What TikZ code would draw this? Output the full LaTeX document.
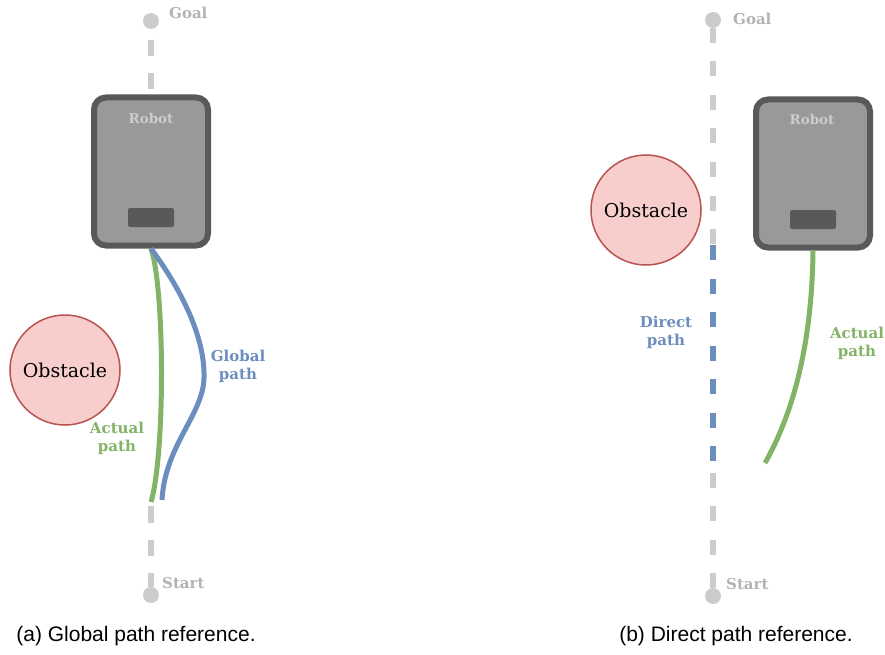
\documentclass[tikz,border=0pt]{standalone}
\usepackage{fontspec}
\setmainfont{DejaVu Serif}
\newfontfamily\capfont{Liberation Sans}
\definecolor{trackgray}{HTML}{CCCCCC}
\definecolor{labelgray}{HTML}{B3B3B3}
\definecolor{bodygray}{HTML}{999999}
\definecolor{rimgray}{HTML}{595959}
\definecolor{robottext}{HTML}{CCCCCC}
\definecolor{obsfill}{HTML}{F8CECC}
\definecolor{obsdraw}{HTML}{B85450}
\definecolor{pathgreen}{HTML}{82B366}
\definecolor{pathblue}{HTML}{6C8EBF}
\begin{document}
\begin{tikzpicture}[x=1pt,y=-1pt,
  endpoint/.style={circle,fill=trackgray,minimum size=16pt,inner sep=0pt,outer sep=0pt},
  endlabel/.style={anchor=west,text=labelgray,font=\fontsize{15}{18}\selectfont\bfseries,inner sep=0pt},
  track/.style={trackgray,line width=6pt},
  robotbody/.style={rectangle,draw=rimgray,fill=bodygray,line width=6pt,rounded corners=12pt,
    minimum width=114pt,minimum height=148pt,inner sep=0pt},
  sensor/.style={rectangle,fill=rimgray,rounded corners=2pt,minimum width=46pt,minimum height=19pt,inner sep=0pt},
  robotlabel/.style={text=robottext,font=\fontsize{13.5}{15}\selectfont\bfseries,inner sep=0pt},
  obstacle/.style={circle,draw=obsdraw,fill=obsfill,line width=1.5pt,minimum size=110pt,inner sep=0pt,
    font=\fontsize{19}{22}\selectfont},
  route/.style={line width=5pt},
  routelabel/.style={align=center,font=\fontsize{15}{18}\selectfont\bfseries,inner sep=0pt},
  caption/.style={font=\capfont\fontsize{21}{24}\selectfont,inner sep=0pt}
]
\useasboundingbox (0,0) rectangle (885,655);

% ---------- (a) global path reference ----------
\node[endpoint] (goalA) at (151,21) {};
\node[endlabel] (goalAtxt) at (169,13) {Goal};
\node[endpoint] (startA) at (151,595) {};
\node[endlabel] (startAtxt) at (162,583) {Start};

\node[robotbody] (robotA) at (151,171.5) {};
\node[sensor] (sensorA) at (151,217.5) {};
\node[robotlabel] (robotAtxt) at (151,118) {Robot};

\node[obstacle] (obsA) at (65,370) {Obstacle};

\coordinate (trackAend) at (151,505);
\draw[track,dash pattern=on 16pt off 17pt,dash phase=22pt] (goalA.south) -- (robotA.north);
\draw[track,dash pattern=on 16.5pt off 17pt,dash phase=2.5pt] (startA.north) -- (trackAend);

\coordinate (actAend) at (151,502);
\coordinate (globAmid) at (204,378);
\coordinate (globAend) at (162,500);
\draw[route,pathgreen] (robotA.south) .. controls (165,290) and (165,455) .. (actAend);
\draw[route,pathblue] (robotA.south) .. controls (185,295) and (205,340) .. (globAmid)
  .. controls (203,415) and (165,445) .. (globAend);

\node[routelabel,text=pathblue] (globAtxt) at (238,366) {Global\\path};
\node[routelabel,text=pathgreen] (actAtxt) at (117,438) {Actual\\path};

\node[caption] (capA) at (136,636) {(a) Global path reference.};

% ---------- (b) direct path reference ----------
\node[endpoint] (goalB) at (713,20) {};
\node[endlabel] (goalBtxt) at (733,19) {Goal};
\node[endpoint] (startB) at (713,596) {};
\node[endlabel] (startBtxt) at (726,584) {Start};

\node[robotbody] (robotB) at (813,173.5) {};
\node[sensor] (sensorB) at (813,219.5) {};
\node[robotlabel] (robotBtxt) at (812,119) {Robot};

\node[obstacle] (obsB) at (646,210) {Obstacle};

\coordinate (directB1) at (713,245);
\coordinate (directB2) at (713,461);
\draw[track,dash pattern=on 15pt off 18.5pt] (goalB.south) -- (directB1);
\draw[track,dash pattern=on 15pt off 18.5pt] (startB.north) -- (directB2);
\draw[track,pathblue,dash pattern=on 15pt off 18.5pt] (directB1) -- (directB2);

\coordinate (actBend) at (765,463);
\draw[route,pathgreen] (robotB.south) .. controls (812,337) and (796,408) .. (actBend);

\node[routelabel,text=pathblue] (dirBtxt) at (666,332) {Direct\\path};
\node[routelabel,text=pathgreen] (actBtxt) at (857,343) {Actual\\path};

\node[caption] (capB) at (736,636) {(b) Direct path reference.};
\end{tikzpicture}
\end{document}
